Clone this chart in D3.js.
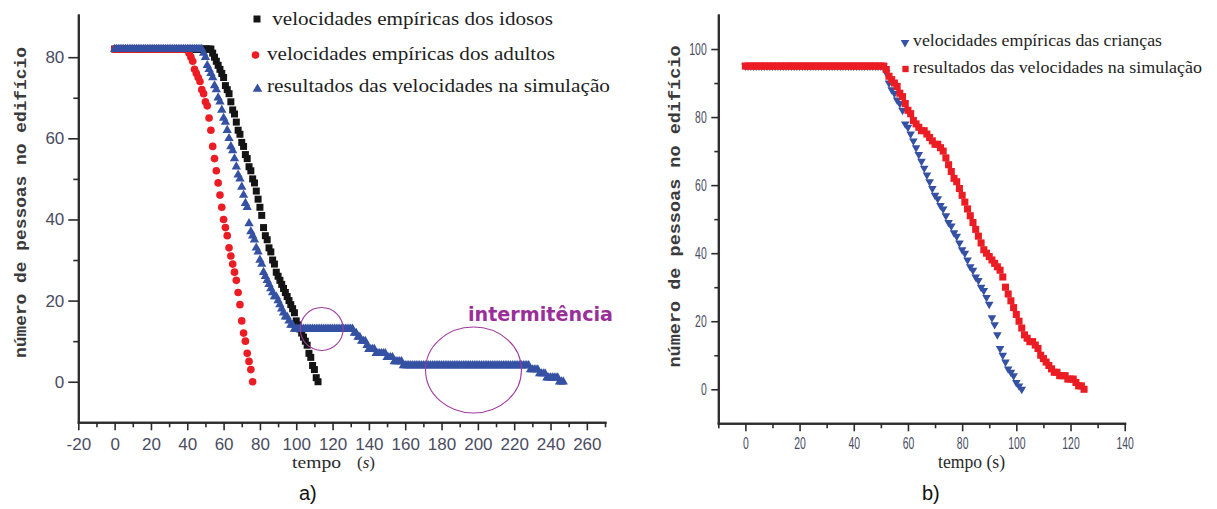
<!DOCTYPE html>
<html>
<head>
<meta charset="utf-8">
<script src="https://cdn.jsdelivr.net/npm/d3@7"></script>
<style>
  html, body { margin: 0; padding: 0; background: #fff; }
  svg { display: block; }
</style>
</head>
<body>
<svg id="fig" width="1217" height="509"></svg>
<script>
// Número de pessoas ainda no edifício, uma leitura por segundo (t = 0, 1, 2, ... s)

// Painel a)
const idosos = [
  82,82,82,82,82,82,82,82,82,82,
  82,82,82,82,82,82,82,82,82,82,
  82,82,82,82,82,82,82,82,82,82,
  82,82,82,82,82,82,82,82,82,82,
  82,82,82,82,82,82,82,82,82,82,
  82,82,82,82,81,80,79,78,77,76,
  75,73,72,71,69,67,66,64,62,61,
  59,58,56,55,53,52,50,49,47,45,
  43,41,38,36,35,33,32,30,29,27,
  26,25,24,23,22,21,20,19,18,17,
  15,14,13,12,11,10,9,7,6,4,
  3,1,0
];
const adultos = [
  82,82,82,82,82,82,82,82,82,82,
  82,82,82,82,82,82,82,82,82,82,
  82,82,82,82,82,82,82,82,82,82,
  82,82,82,82,82,82,82,82,82,82,
  82,81,80,79,77,76,75,74,72,71,
  69,68,65,62,58,55,52,49,46,43,
  40,38,36,33,31,29,27,25,22,19,
  15,12,10,7,5,3,0
];
const simulacaoA = [
  82,82,82,82,82,82,82,82,82,82,
  82,82,82,82,82,82,82,82,82,82,
  82,82,82,82,82,82,82,82,82,82,
  82,82,82,82,82,82,82,82,82,82,
  82,82,82,82,82,82,82,82,82,81,
  80,78,77,76,75,73,72,70,69,67,
  65,64,62,60,58,57,55,53,51,50,
  48,46,44,43,39,37,36,35,33,32,
  30,29,27,26,25,24,23,22,21,21,
  20,19,18,17,16,16,15,14,14,13,
  13,13,13,13,13,13,13,13,13,13,
  13,13,13,13,13,13,13,13,13,13,
  13,13,13,13,13,13,13,13,13,13,
  13,13,12,12,11,11,10,10,10,9,
  8,8,8,8,7,7,7,7,7,7,
  6,6,6,6,5,5,5,5,5,4,
  4,4,4,4,4,4,4,4,4,4,
  4,4,4,4,4,4,4,4,4,4,
  4,4,4,4,4,4,4,4,4,4,
  4,4,4,4,4,4,4,4,4,4,
  4,4,4,4,4,4,4,4,4,4,
  4,4,4,4,4,4,4,4,4,4,
  4,4,4,4,4,4,4,4,4,3,
  3,3,3,3,2,2,2,2,1,1,
  1,1,1,1,1,0,0,0
];

// Painel b)
const criancas = [
  95,95,95,95,95,95,95,95,95,95,
  95,95,95,95,95,95,95,95,95,95,
  95,95,95,95,95,95,95,95,95,95,
  95,95,95,95,95,95,95,95,95,95,
  95,95,95,95,95,95,95,95,95,95,
  95,95,93,90,88,87,85,84,82,78,
  77,75,73,71,69,67,65,63,61,59,
  57,56,54,53,51,49,48,46,45,43,
  41,40,38,36,35,33,32,30,29,27,
  25,21,19,16,12,10,8,6,5,4,
  2,1,0
];
const simulacaoB = [
  95,95,95,95,95,95,95,95,95,95,
  95,95,95,95,95,95,95,95,95,95,
  95,95,95,95,95,95,95,95,95,95,
  95,95,95,95,95,95,95,95,95,95,
  95,95,95,95,95,95,95,95,95,95,
  95,95,94,92,91,90,89,87,86,84,
  82,81,79,78,77,76,76,75,74,73,
  72,72,71,70,68,66,64,62,61,59,
  57,55,53,51,49,47,45,43,41,40,
  39,38,37,36,35,33,30,28,26,24,
  22,20,18,16,15,14,14,13,12,10,
  9,8,7,6,5,5,4,4,4,3,
  3,3,2,1,1,0
];

const legendaA = [
  " velocidades empíricas dos idosos",
  "velocidades empíricas dos adultos",
  "resultados das velocidades na simulação"
];
const legendaB = [
  "velocidades empíricas das crianças",
  "resultados das velocidades na simulação"
];

const ticksXA = [-20, 0, 20, 40, 60, 80, 100, 120, 140, 160, 180, 200, 220, 240, 260];
const minorXA = [-10, 10, 30, 50, 70, 90, 110, 130, 150, 170, 190, 210, 230, 250, 270];
const ticksYA = [0, 20, 40, 60, 80];
const minorYA = [10, 30, 50, 70];
const ticksXB = [0, 20, 40, 60, 80, 100, 120, 140];
const minorXB = [-10, 10, 30, 50, 70, 90, 110, 130];
const ticksYB = [0, 20, 40, 60, 80, 100];
const minorYB = [10, 30, 50, 70, 90];

// Regiões destacadas no painel a): centro (t, n) e semi-eixos (dt, dn), em unidades dos dados
const destaques = [
  { t: 114, n: 13, dt: 11.8, dn: 5.3 },
  { t: 197.6, n: 2.9, dt: 26.4, dn: 10.6 }
];

const PRETO = "#141414", VERMELHO = "#ec1c24", AZUL = "#3551a3", ROXO = "#a03ca0";
const corEixo = "#2b2b2b", corRotulo = "#4a4c62";
const SERIFA = "'Liberation Serif', 'Times New Roman', serif";

const svg = d3.select("#fig");

const xA = d3.scaleLinear().domain([-20, 270]).range([78.3, 605]);
const yA = d3.scaleLinear().domain([-10, 90.4]).range([422.3, 15]);
const xB = d3.scaleLinear().domain([-10, 140]).range([718.3, 1124.7]);
const yB = d3.scaleLinear().domain([-10, 110]).range([423.3, 15]);

function eixos(x, y, c) {
  const g = svg.append("g");
  const y0 = y.range()[0], x0 = x.range()[0];
  g.append("g").attr("transform", `translate(0,${y0})`)
    .call(d3.axisBottom(x).tickValues(c.xMinor).tickSize(c.minX).tickSizeOuter(0).tickFormat(""));
  g.append("g").attr("transform", `translate(${x0},0)`)
    .call(d3.axisLeft(y).tickValues(c.yMinor).tickSize(c.minY).tickSizeOuter(0).tickFormat(""));
  g.append("g").attr("transform", `translate(0,${y0})`)
    .call(d3.axisBottom(x).tickValues(c.xMajor).tickSize(c.majX).tickPadding(c.padX)
      .tickSizeOuter(0).tickFormat(d => String(d)));
  g.append("g").attr("transform", `translate(${x0},0)`)
    .call(d3.axisLeft(y).tickValues(c.yMajor).tickSize(c.majY).tickPadding(c.padY)
      .tickSizeOuter(0).tickFormat(d => String(d)));
  g.selectAll(".domain").attr("stroke", corEixo).attr("stroke-width", 2).attr("stroke-linecap", "square");
  g.selectAll(".tick line").attr("stroke", corEixo).attr("stroke-width", 1.6);
  g.selectAll(".tick text")
    .attr("fill", corRotulo)
    .attr("font-family", c.fonte)
    .attr("font-size", c.tamanho);
  if (c.largDigito) {
    g.selectAll(".tick text")
      .attr("textLength", function () { return this.textContent.length * c.largDigito; })
      .attr("lengthAdjust", "spacingAndGlyphs");
  }
  return g;
}

function serie(valores, x, y, simbolo, tamanho, cor, rot) {
  svg.append("g").selectAll("path").data(valores).join("path")
    .attr("d", d3.symbol(simbolo, tamanho))
    .attr("transform", (v, i) => `translate(${x(i)},${y(v)})` + (rot ? ` rotate(${rot})` : ""))
    .attr("fill", cor);
}

function texto(x, y, s, o) {
  const t = svg.append("text").attr("x", x).attr("y", y)
    .attr("font-family", o.fonte).attr("font-size", o.tamanho)
    .attr("fill", o.cor || "#222").text(s);
  if (o.peso) t.attr("font-weight", o.peso);
  if (o.anchor) t.attr("text-anchor", o.anchor);
  if (o.comp) t.attr("textLength", o.comp).attr("lengthAdjust", "spacingAndGlyphs");
  t.style("white-space", "pre");
  return t;
}

// ---------- Painel a) ----------
eixos(xA, yA, {
  xMajor: ticksXA, xMinor: minorXA, yMajor: ticksYA, yMinor: minorYA,
  majX: 8, minX: 5, majY: 10, minY: 5, padX: 7.6, padY: 4,
  fonte: "'Liberation Sans', Arial, sans-serif", tamanho: 17
});

serie(idosos, xA, yA, d3.symbolSquare, 49, PRETO);
serie(adultos, xA, yA, d3.symbolCircle, 46, VERMELHO);
serie(simulacaoA, xA, yA, d3.symbolTriangle, 38, AZUL);

destaques.forEach(d => {
  svg.append("ellipse")
    .attr("cx", xA(d.t)).attr("cy", yA(d.n))
    .attr("rx", xA(d.t + d.dt) - xA(d.t)).attr("ry", yA(d.n) - yA(d.n + d.dn))
    .attr("fill", "none").attr("stroke", ROXO).attr("stroke-width", 1.1);
});
texto(468, 321, "intermitência", { fonte: "'DejaVu Sans', Verdana, sans-serif", tamanho: 19, peso: "bold", cor: "#9a2f9a", comp: 145 });

// legenda a)
const simbA = [
  { s: d3.symbolSquare, a: 49, c: PRETO, x: 257, y: 19 },
  { s: d3.symbolCircle, a: 46, c: VERMELHO, x: 255.5, y: 55 },
  { s: d3.symbolTriangle, a: 40, c: AZUL, x: 257.5, y: 89 }
];
const posLegA = [{ x: 267, y: 25, w: 286 }, { x: 267, y: 60, w: 288 }, { x: 267, y: 92, w: 343 }];
legendaA.forEach((nome, i) => {
  const m = simbA[i];
  svg.append("path").attr("d", d3.symbol(m.s, m.a)).attr("transform", `translate(${m.x},${m.y})`).attr("fill", m.c);
  texto(posLegA[i].x, posLegA[i].y, nome, { fonte: SERIFA, tamanho: 18, cor: "#1e1e1e", comp: posLegA[i].w });
});

// títulos dos eixos a)
svg.append("text")
  .attr("transform", "translate(26,202.5) rotate(-90)")
  .attr("text-anchor", "middle")
  .attr("font-family", "'Liberation Mono', 'Courier New', monospace")
  .attr("font-size", 17).attr("font-weight", "bold").attr("fill", "#3a3a3a")
  .attr("textLength", 311).attr("lengthAdjust", "spacingAndGlyphs")
  .text("número de pessoas no edifício");
texto(292, 468, "tempo", { fonte: SERIFA, tamanho: 17, cor: "#2a2a2a", comp: 49 });
const parA = texto(357, 468, "(", { fonte: SERIFA, tamanho: 17, cor: "#2a2a2a" });
parA.append("tspan").attr("font-style", "italic").text("s");
parA.append("tspan").text(")");
texto(299, 500, "a)", { fonte: "'Liberation Sans', Arial, sans-serif", tamanho: 20, cor: "#111" });

// ---------- Painel b) ----------
eixos(xB, yB, {
  xMajor: ticksXB, xMinor: minorXB, yMajor: ticksYB, yMinor: minorYB,
  majX: 8, minX: 5, majY: 7, minY: 4, padX: 6.3, padY: 4.6,
  fonte: "'Liberation Sans', Arial, sans-serif", tamanho: 16, largDigito: 5.8
});

serie(criancas, xB, yB, d3.symbolTriangle, 32, AZUL, 180);
serie(simulacaoB, xB, yB, d3.symbolSquare, 50, VERMELHO);

// legenda b)
const simbB = [
  { s: d3.symbolTriangle, a: 32, c: AZUL, x: 905, y: 42.5, r: 180 },
  { s: d3.symbolSquare, a: 40, c: VERMELHO, x: 905.5, y: 69, r: 0 }
];
const posLegB = [{ x: 913, y: 46, w: 249 }, { x: 913, y: 73, w: 289 }];
legendaB.forEach((nome, i) => {
  const m = simbB[i];
  svg.append("path").attr("d", d3.symbol(m.s, m.a))
    .attr("transform", `translate(${m.x},${m.y}) rotate(${m.r})`).attr("fill", m.c);
  texto(posLegB[i].x, posLegB[i].y, nome, { fonte: SERIFA, tamanho: 17, cor: "#1e1e1e", comp: posLegB[i].w });
});

svg.append("text")
  .attr("transform", "translate(680,206.5) rotate(-90)")
  .attr("text-anchor", "middle")
  .attr("font-family", "'Liberation Mono', 'Courier New', monospace")
  .attr("font-size", 17).attr("font-weight", "bold").attr("fill", "#3a3a3a")
  .attr("textLength", 322).attr("lengthAdjust", "spacingAndGlyphs")
  .text("número de pessoas no edifício");
texto(938, 468, "tempo (s)", { fonte: SERIFA, tamanho: 18, cor: "#2a2a2a", comp: 67 });
texto(922, 500, "b)", { fonte: "'Liberation Sans', Arial, sans-serif", tamanho: 20, cor: "#111" });
</script>
</body>
</html>
